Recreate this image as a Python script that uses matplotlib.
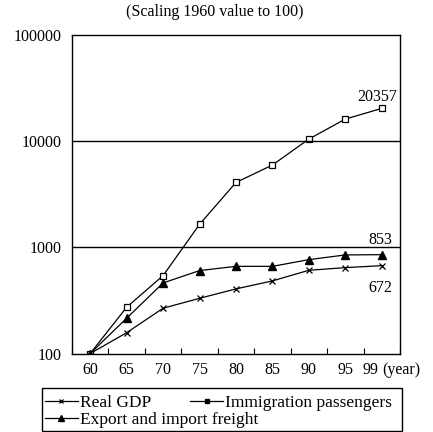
import numpy as np
import matplotlib.pyplot as plt
from matplotlib.lines import Line2D
from matplotlib.patches import Rectangle

plt.rcParams['font.family'] = ['Liberation Serif', 'DejaVu Serif']

# Index values, 1960 = 100
years = ["60", "65", "70", "75", "80", "85", "90", "95", "99"]
real_gdp = [100, 157, 267, 331, 406, 483, 608, 644, 672]
passengers = [100, 273, 542, 1646, 4085, 5960, 10470, 16150, 20357]
freight = [100, 215, 462, 604, 662, 662, 766, 848, 853]

W, H = 433, 432
fig = plt.figure(figsize=(W / 100, H / 100), dpi=100)
ax = fig.add_axes([72 / W, 1 - 353.5 / H, 328 / W, 318.5 / H])

x = np.arange(len(years))
lw = 0.9
ax.plot(x, real_gdp, color='black', lw=lw, marker='x', ms=5, mew=0.9)
ax.plot(x, passengers, color='black', lw=lw, marker='s', ms=5, mfc='white', mew=0.9)
ax.plot(x, freight, color='black', lw=lw, marker='^', ms=6, mfc='black')

ax.set_yscale('log')
ax.set_ylim(100, 100000)
ax.set_xlim(-0.5, len(years) - 0.5)
ax.set_yticks([100, 1000, 10000, 100000])
ax.set_yticklabels(["100", "1000", "10000", "100000"])
ax.minorticks_off()
ax.tick_params(axis='y', length=0, pad=7.7, labelsize=11.5)

# year labels; the last one is nudged left to leave room for "(year)"
label_pos = x.astype(float)
label_pos[-1] = 7.7
ax.set_xticks(label_pos)
ax.set_xticklabels(years)
ax.tick_params(axis='x', length=0, pad=6, labelsize=11.5)
# category boundary ticks pointing inward
ax.set_xticks(np.arange(len(years) + 1) - 0.5, minor=True)
ax.tick_params(axis='x', which='minor', direction='in', length=4, width=0.8)

for yv in [1000, 10000]:
    ax.axhline(yv, color='black', lw=1.0)
for s in ax.spines.values():
    s.set_linewidth(1.0)

ax.text(7.88, 26000, "20357", ha='center', va='center', fontsize=11.5)
ax.text(7.97, 1172, "853", ha='center', va='center', fontsize=11.5)
ax.text(7.97, 414, "672", ha='center', va='center', fontsize=11.5)
ax.annotate("(year)", xy=(8.01, 0), xycoords=('data', 'axes fraction'),
            xytext=(0, -6), textcoords='offset points',
            ha='left', va='top', fontsize=11.5, annotation_clip=False)

fig.text(215 / W, 1 - 12 / H, "(Scaling 1960 value to 100)",
         ha='center', va='center', fontsize=11.5)

# legend: two rows inside one box
h_gdp = Line2D([], [], color='black', lw=lw, marker='x', ms=3.5, mew=0.9)
h_pass = Line2D([], [], color='black', lw=lw, marker='s', ms=3.2, mfc='black')
h_frt = Line2D([], [], color='black', lw=lw, marker='^', ms=4, mfc='black')
leg_kw = dict(frameon=False, fontsize=12.5, handlelength=1.9, handletextpad=0.12,
              borderpad=0, borderaxespad=0, loc='center left')
fig.legend([h_gdp, h_pass], ["Real GDP", "Immigration passengers"], ncol=2,
           columnspacing=2.25, bbox_to_anchor=(45 / W, 1 - 403 / H), **leg_kw)
fig.legend([h_frt], ["Export and import freight"],
           bbox_to_anchor=(45 / W, 1 - 420 / H), **leg_kw)
fig.add_artist(Rectangle((41.7 / W, 1 - 431.3 / H), 360 / W, 43.3 / H,
                         transform=fig.transFigure, fill=False,
                         edgecolor='black', lw=1.0))

fig.savefig("out.png", dpi=100)
